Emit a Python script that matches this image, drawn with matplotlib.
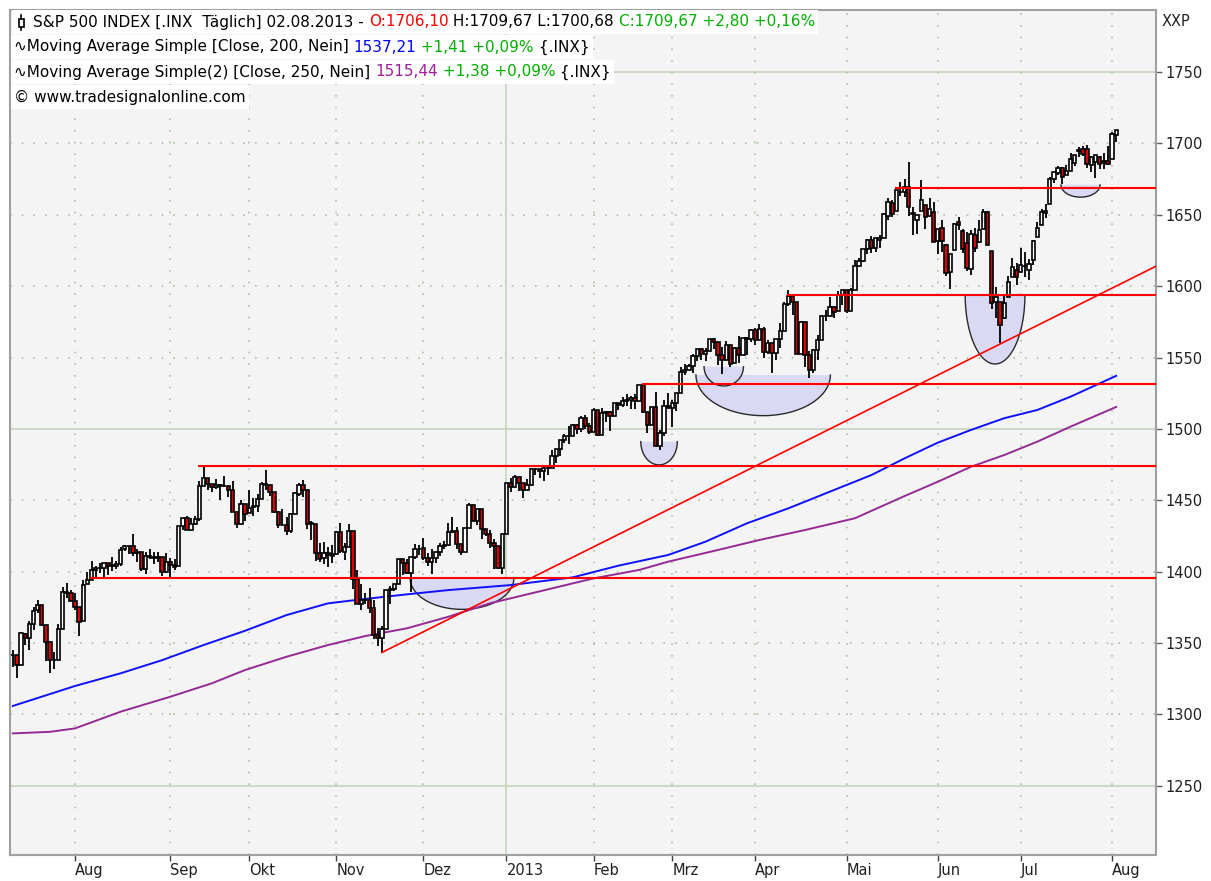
import matplotlib
matplotlib.use('Agg')  # no display
import matplotlib.pyplot as plt
from matplotlib.lines import Line2D
from matplotlib.patches import Rectangle
import numpy as np
import pandas as pd

W, H = 1211, 881
plt.rcParams['font.family'] = ['DejaVu Sans']

# --- data: S&P 500 daily bars, 11.07.2012 - 02.08.2013 ---
holidays = ['2012-09-03', '2012-10-29', '2012-10-30', '2012-11-22', '2012-12-25',
            '2013-01-01', '2013-01-21', '2013-02-18', '2013-03-29', '2013-05-27', '2013-07-04']
dates = pd.bdate_range('2012-07-11', '2013-08-02', freq='C', holidays=holidays)

opens = [
    1341.40, 1341.29, 1334.81, 1356.50, 1353.68, 1363.58, 1373.01, 1376.51, 1362.34, 1350.52, 1338.35, 1338.17, 1360.05, 1385.94, 1385.27,
    1379.32, 1375.13, 1365.45, 1391.04, 1394.46, 1401.23, 1402.26, 1402.58, 1405.87, 1404.36, 1403.89, 1405.57, 1415.84, 1417.85, 1418.13, 1413.09, 1413.49, 1401.99, 1411.13, 1410.44, 1409.32, 1410.08, 1400.07,
    1406.54, 1404.94, 1403.74, 1432.12, 1437.92, 1429.13, 1433.56, 1436.56, 1460.07, 1465.42, 1461.19, 1459.50, 1461.05, 1460.34, 1459.76, 1456.94, 1441.60, 1433.36, 1447.13,
    1440.90, 1444.99, 1446.05, 1451.08, 1461.40, 1460.93, 1455.90, 1441.48, 1432.82, 1432.84, 1428.75, 1440.31, 1454.22, 1460.94, 1457.34, 1433.21, 1433.74, 1413.20, 1409.74, 1412.97, 1410.99,
    1412.20, 1427.59, 1414.02, 1417.26, 1428.27, 1394.53, 1377.55, 1379.86, 1380.03, 1374.64, 1355.41, 1353.36, 1359.88, 1386.82, 1387.79, 1391.03, 1409.15, 1406.29, 1398.77, 1409.96, 1415.95,
    1416.34, 1409.46, 1407.05, 1409.43, 1413.95, 1418.07, 1418.55, 1427.84, 1428.48, 1419.45, 1413.54, 1430.47, 1446.79, 1435.81, 1443.67, 1430.15, 1426.66, 1419.83, 1418.10, 1402.43,
    1426.19, 1462.42, 1459.37, 1466.47, 1461.89, 1457.15, 1461.02, 1472.12, 1472.05, 1470.67, 1472.33, 1472.63, 1480.95, 1485.98, 1492.56, 1494.81, 1494.82, 1502.96, 1500.18, 1507.84, 1501.96,
    1498.11, 1513.17, 1495.71, 1511.29, 1512.12, 1509.39, 1517.93, 1517.01, 1519.43, 1520.33, 1521.38, 1519.79, 1530.94, 1511.95, 1502.42, 1515.60, 1487.85, 1496.94, 1515.99,
    1514.68, 1518.20, 1525.20, 1539.79, 1541.46, 1544.26, 1551.15, 1556.22, 1552.48, 1554.52, 1563.21, 1560.70, 1552.10, 1548.34, 1558.71, 1545.90, 1556.89, 1551.69, 1563.75, 1562.86,
    1569.18, 1562.17, 1570.25, 1553.69, 1559.98, 1553.26, 1563.11, 1568.61, 1587.73, 1593.30, 1588.84, 1552.36, 1574.57, 1552.03, 1541.61, 1555.25, 1562.50, 1578.78, 1578.78, 1585.16, 1582.34, 1593.58,
    1597.55, 1582.77, 1597.60, 1614.40, 1617.55, 1625.95, 1632.69, 1626.69, 1632.10, 1633.75, 1649.13, 1658.07, 1652.45, 1665.71, 1666.20, 1669.39, 1651.62, 1646.67, 1652.63, 1656.57, 1649.14, 1652.13,
    1631.71, 1640.73, 1629.05, 1609.94, 1625.27, 1644.67, 1638.64, 1629.94, 1612.15, 1635.52, 1630.64, 1639.77, 1651.83, 1624.62, 1588.62, 1588.77, 1577.52, 1592.27, 1606.44, 1611.12,
    1609.78, 1614.29, 1611.48, 1618.65, 1634.20, 1642.89, 1651.56, 1657.41, 1675.26, 1679.59, 1682.70, 1677.91, 1681.05, 1686.15, 1694.41, 1696.06, 1695.95, 1685.21, 1687.31, 1690.32, 1687.92, 1687.76,
    1689.42, 1706.10,
]
highs = [
    1345.00, 1341.29, 1357.70, 1357.26, 1365.36, 1375.26, 1380.39, 1376.51, 1362.34, 1351.53, 1343.98, 1363.13, 1389.19, 1391.74, 1387.16,
    1385.03, 1375.13, 1394.16, 1399.63, 1407.14, 1404.14, 1405.95, 1405.98, 1405.87, 1410.03, 1407.73, 1417.44, 1418.71, 1418.13, 1426.68, 1416.12, 1413.49, 1413.46, 1416.17, 1413.63, 1413.95, 1410.08, 1413.09,
    1409.31, 1408.81, 1432.12, 1437.92, 1438.74, 1437.76, 1439.15, 1463.76, 1474.51, 1465.63, 1461.47, 1465.15, 1461.23, 1467.07, 1460.72, 1463.24, 1441.60, 1450.20, 1447.13,
    1457.14, 1451.52, 1454.30, 1463.14, 1470.96, 1460.93, 1455.90, 1442.52, 1443.90, 1438.43, 1441.31, 1455.51, 1462.20, 1464.02, 1457.34, 1435.46, 1433.74, 1420.04, 1421.12, 1417.09, 1418.76,
    1428.35, 1434.27, 1419.90, 1433.38, 1428.27, 1401.23, 1391.39, 1384.87, 1388.81, 1380.13, 1360.62, 1362.03, 1386.89, 1389.77, 1391.25, 1409.16, 1409.15, 1409.01, 1410.13, 1419.70, 1418.86,
    1423.73, 1413.14, 1415.56, 1413.95, 1420.34, 1421.64, 1434.27, 1438.59, 1431.36, 1419.45, 1430.67, 1448.00, 1447.75, 1443.70, 1443.67, 1430.15, 1429.42, 1422.80, 1418.10, 1426.74,
    1462.43, 1465.47, 1467.94, 1466.47, 1461.89, 1464.73, 1472.30, 1472.75, 1472.05, 1473.31, 1473.96, 1485.16, 1485.98, 1492.56, 1496.13, 1502.27, 1503.26, 1503.23, 1509.35, 1509.94, 1504.19,
    1514.41, 1513.17, 1514.96, 1512.53, 1512.90, 1518.31, 1518.31, 1522.29, 1524.69, 1523.14, 1524.24, 1530.94, 1530.94, 1511.95, 1515.64, 1525.84, 1498.99, 1520.08, 1525.34,
    1519.99, 1525.27, 1543.47, 1545.25, 1545.78, 1552.48, 1556.27, 1556.77, 1556.39, 1563.32, 1563.62, 1560.70, 1557.25, 1561.56, 1558.71, 1557.74, 1564.91, 1563.95, 1564.07, 1570.28,
    1570.57, 1573.66, 1571.47, 1562.60, 1559.98, 1563.07, 1573.89, 1589.07, 1597.35, 1593.30, 1588.84, 1575.35, 1574.57, 1554.38, 1555.89, 1565.55, 1579.58, 1583.00, 1592.64, 1585.78, 1596.65, 1597.57,
    1597.55, 1598.60, 1618.46, 1619.77, 1626.03, 1632.78, 1635.01, 1633.70, 1636.00, 1651.10, 1661.49, 1660.51, 1667.47, 1672.84, 1674.93, 1687.18, 1655.50, 1649.78, 1674.21, 1656.57, 1661.91, 1658.99,
    1640.42, 1646.53, 1629.31, 1622.56, 1644.40, 1648.69, 1640.13, 1637.71, 1639.25, 1640.80, 1646.50, 1654.19, 1652.45, 1624.62, 1599.19, 1588.77, 1593.79, 1606.83, 1620.07, 1615.94,
    1626.61, 1624.26, 1618.97, 1632.07, 1644.68, 1654.18, 1657.92, 1676.63, 1680.19, 1684.51, 1683.73, 1684.75, 1693.12, 1692.09, 1697.61, 1698.38, 1698.86, 1690.94, 1691.85, 1690.92, 1693.19, 1698.43,
    1707.85, 1709.67,
]
lows = [
    1333.25, 1325.41, 1334.81, 1348.51, 1345.07, 1358.96, 1371.21, 1362.19, 1337.56, 1329.24, 1331.50, 1338.17, 1360.05, 1381.37, 1379.17,
    1373.35, 1354.65, 1365.45, 1391.04, 1394.46, 1396.13, 1398.80, 1395.62, 1397.32, 1400.60, 1401.83, 1404.15, 1414.67, 1412.12, 1410.86, 1406.78, 1400.50, 1398.04, 1409.11, 1405.59, 1406.57, 1397.01, 1398.96,
    1396.56, 1401.25, 1403.74, 1429.49, 1428.98, 1429.13, 1432.99, 1435.34, 1460.07, 1457.55, 1456.13, 1457.88, 1449.98, 1459.51, 1452.06, 1441.59, 1430.53, 1433.36, 1435.60,
    1440.90, 1439.01, 1441.99, 1451.08, 1456.89, 1453.10, 1441.18, 1430.64, 1432.82, 1425.53, 1427.24, 1440.31, 1453.35, 1452.63, 1429.85, 1422.06, 1407.56, 1407.10, 1405.14, 1403.28, 1405.95,
    1412.20, 1412.91, 1408.13, 1417.26, 1388.14, 1377.51, 1373.03, 1377.19, 1370.78, 1352.50, 1348.05, 1343.35, 1359.88, 1377.04, 1386.39, 1391.03, 1397.68, 1398.03, 1385.43, 1409.04, 1411.63,
    1408.46, 1403.65, 1398.23, 1405.93, 1410.90, 1415.64, 1418.55, 1426.76, 1416.00, 1411.88, 1413.54, 1430.47, 1435.80, 1432.82, 1422.58, 1424.66, 1416.43, 1401.80, 1401.58, 1398.11,
    1426.19, 1455.53, 1458.99, 1456.62, 1451.64, 1457.15, 1461.02, 1467.58, 1465.69, 1463.76, 1467.60, 1472.63, 1475.81, 1481.16, 1489.90, 1489.46, 1494.82, 1496.33, 1498.09, 1500.11, 1496.76,
    1498.11, 1495.02, 1495.71, 1504.71, 1498.49, 1509.39, 1513.61, 1515.61, 1515.93, 1514.02, 1514.14, 1519.79, 1511.41, 1497.29, 1502.42, 1487.85, 1485.01, 1494.88, 1514.46,
    1501.48, 1512.29, 1525.20, 1538.11, 1541.46, 1539.19, 1547.36, 1548.24, 1547.25, 1554.52, 1555.74, 1545.13, 1538.57, 1548.34, 1543.55, 1545.90, 1546.22, 1551.69, 1551.90, 1561.08,
    1558.47, 1562.17, 1549.80, 1552.52, 1539.50, 1548.63, 1556.89, 1568.61, 1586.17, 1579.97, 1552.28, 1552.36, 1543.69, 1536.03, 1539.40, 1548.19, 1562.50, 1575.80, 1578.78, 1577.56, 1582.34, 1586.50,
    1581.28, 1582.77, 1597.60, 1614.21, 1616.64, 1622.70, 1623.09, 1623.71, 1626.74, 1633.75, 1646.68, 1648.60, 1652.45, 1663.52, 1662.67, 1648.86, 1635.53, 1636.88, 1652.63, 1640.05, 1648.61, 1630.74,
    1622.72, 1623.62, 1607.09, 1598.23, 1625.27, 1639.26, 1622.92, 1610.92, 1608.07, 1623.96, 1630.34, 1639.77, 1628.91, 1584.32, 1577.70, 1560.33, 1577.09, 1592.27, 1606.44, 1601.06,
    1609.78, 1606.77, 1604.57, 1614.71, 1634.20, 1642.89, 1647.66, 1657.41, 1672.33, 1677.89, 1671.84, 1677.91, 1681.05, 1684.08, 1690.67, 1691.13, 1682.81, 1680.07, 1676.03, 1681.86, 1682.42, 1684.94,
    1689.42, 1700.68,
]
closes = [
    1341.45, 1334.76, 1356.78, 1353.64, 1363.67, 1372.78, 1376.51, 1362.66, 1350.52, 1338.31, 1337.89, 1360.02, 1385.97, 1385.30, 1379.32,
    1375.32, 1365.00, 1390.99, 1394.23, 1401.35, 1402.22, 1402.80, 1405.87, 1404.11, 1403.93, 1405.53, 1415.51, 1418.16, 1418.13, 1413.17, 1413.49, 1402.08, 1411.13, 1410.44, 1409.30, 1410.49, 1399.48, 1406.58,
    1404.94, 1403.44, 1432.12, 1437.92, 1429.08, 1433.56, 1436.56, 1459.99, 1465.77, 1461.19, 1459.32, 1461.05, 1460.26, 1460.15, 1456.89, 1441.59, 1433.32, 1447.15, 1440.67,
    1444.49, 1445.75, 1450.99, 1461.40, 1460.93, 1455.88, 1441.48, 1432.56, 1432.84, 1428.59, 1440.13, 1454.92, 1460.91, 1457.34, 1433.19, 1433.82, 1413.11, 1408.75, 1412.97, 1411.94, 1412.16,
    1427.59, 1414.20, 1417.26, 1428.39, 1394.53, 1377.51, 1379.85, 1380.03, 1374.53, 1355.49, 1353.33, 1359.88, 1386.89, 1387.81, 1391.03, 1409.15, 1406.29, 1398.94, 1409.93, 1415.95, 1416.18,
    1409.46, 1407.05, 1409.28, 1413.94, 1418.07, 1418.55, 1427.84, 1428.48, 1419.45, 1413.58, 1430.36, 1446.79, 1435.81, 1443.69, 1430.15, 1426.66, 1419.83, 1418.10, 1402.43, 1426.19,
    1462.42, 1459.37, 1466.47, 1461.89, 1457.15, 1461.02, 1472.12, 1472.05, 1470.68, 1472.34, 1472.63, 1480.94, 1485.98, 1492.56, 1494.81, 1494.82, 1502.96, 1500.18, 1507.84, 1501.96, 1498.11,
    1513.17, 1495.71, 1511.29, 1512.12, 1509.39, 1517.93, 1517.01, 1519.43, 1520.33, 1521.38, 1519.79, 1530.94, 1511.95, 1502.42, 1515.60, 1487.85, 1496.94, 1515.99, 1514.68,
    1518.20, 1525.20, 1539.79, 1541.46, 1544.26, 1551.18, 1556.22, 1552.48, 1554.52, 1563.23, 1560.70, 1552.10, 1548.34, 1558.71, 1545.80, 1556.89, 1551.69, 1563.77, 1562.85, 1569.19,
    1562.17, 1570.25, 1553.69, 1559.98, 1553.28, 1563.07, 1568.61, 1587.73, 1593.37, 1588.85, 1552.36, 1574.57, 1552.01, 1541.61, 1555.25, 1562.50, 1578.78, 1578.79, 1585.16, 1582.24, 1593.61, 1597.57,
    1582.70, 1597.59, 1614.42, 1617.50, 1625.96, 1632.69, 1626.67, 1633.70, 1633.77, 1650.34, 1658.78, 1650.47, 1667.47, 1666.29, 1669.16, 1655.35, 1650.51, 1649.60, 1660.06, 1648.36, 1654.41, 1630.74,
    1640.42, 1631.38, 1608.90, 1622.56, 1643.38, 1642.81, 1626.13, 1612.52, 1636.36, 1626.73, 1639.04, 1651.81, 1628.93, 1588.19, 1592.43, 1573.09, 1588.03, 1603.26, 1613.20, 1606.28,
    1614.96, 1614.08, 1615.41, 1631.89, 1640.46, 1652.32, 1652.62, 1675.02, 1680.19, 1682.50, 1676.26, 1680.91, 1689.37, 1692.09, 1695.53, 1692.39, 1685.94, 1690.25, 1691.65, 1685.33, 1685.96, 1685.73,
    1706.87, 1709.67,
]

# moving averages at sample bars (bar index into dates)
ma200_bar = [0, 15, 26, 36, 46, 56, 66, 76, 84, 95, 105, 120, 135, 146, 158, 167, 177, 187,
             199, 207, 215, 223, 231, 239, 247, 255, 266]
ma200_val = [1305.9, 1319.9, 1328.8, 1338.0, 1348.6, 1358.6, 1369.6, 1377.8, 1380.6, 1384.1,
             1387.1, 1390.6, 1396.0, 1404.2, 1411.7, 1421.0, 1433.9, 1444.4, 1458.4, 1467.7,
             1479.4, 1490.4, 1499.3, 1507.5, 1513.3, 1522.6, 1537.2]
ma250_bar = [0, 9, 15, 26, 38, 48, 56, 66, 76, 85, 95, 105, 115, 125, 140, 151, 158, 170, 180,
             191, 203, 215, 223, 231, 239, 247, 255, 266]
ma250_val = [1286.7, 1287.8, 1290.2, 1301.9, 1312.4, 1321.8, 1331.1, 1340.4, 1348.6, 1354.9,
             1360.3, 1368.4, 1377.8, 1384.8, 1395.3, 1401.2, 1407.0, 1415.2, 1422.2, 1429.2,
             1437.4, 1453.0, 1463.0, 1473.5, 1481.7, 1491.1, 1501.6, 1515.4]

# drawings: support lines, trend line, bowls
levels = [1395.5, 1474.0, 1531.5, 1593.9, 1668.8]
level_start = [18.6, 44.7, 151.6, 186.6, 212.7]
trend_x = [89.0, 275.6]
trend_y = [1343.4, 1614.0]
bowl_cx = [108.3, 155.8, 171.4, 180.9, 236.8, 257.4]
bowl_hw = [12.5, 4.4, 4.75, 16.2, 7.2, 4.7]
bowl_top = [1395.5, 1491.1, 1543.6, 1537.8, 1593.9, 1671.0]
bowl_depth = [21.9, 16.3, 13.5, 28.5, 48.4, 8.6]

month_labels = ['Aug', 'Sep', 'Okt', 'Nov', 'Dez', '2013', 'Feb', 'Mrz', 'Apr', 'Mai', 'Jun', 'Jul', 'Aug']
ytick_vals = list(range(1250, 1751, 50))

# --- figure ---
fig = plt.figure(figsize=(W / 100, H / 100), dpi=100)
fig.patch.set_facecolor('white')
ax = fig.add_axes([10 / W, 26 / H, 1146 / W, 845 / H])
ax.set_facecolor('#f4f4f4')

x = np.arange(len(dates))
o = np.array(opens)
hi = np.array(highs)
lo = np.array(lows)
c = np.array(closes)

ax.set_xlim(-0.67, 275.6)
ax.set_ylim(1201.5, 1793.5)

# month ticks
months = dates.month
tick_pos = [i for i in range(1, len(dates)) if months[i] != months[i - 1]]

# grid
for v in ytick_vals:
    if v % 250 == 0:
        ax.axhline(v, color='#c3d4bd', lw=1.2, zorder=0.5)
    else:
        ax.axhline(v, color='#a9c2a2', lw=1.2, ls=(0, (1, 6)), zorder=0.5)
for p, lab in zip(tick_pos, month_labels):
    if lab == '2013':
        ax.axvline(p, color='#c3d4bd', lw=1.2, zorder=0.5)
    else:
        ax.axvline(p, color='#a9c2a2', lw=1.2, ls=(0, (1, 6)), zorder=0.5)

# bowls
t = np.linspace(0, np.pi, 80)
for cx, hw, top, d in zip(bowl_cx, bowl_hw, bowl_top, bowl_depth):
    bx = cx + hw * np.cos(t)
    by = top - d * np.sin(t)
    ax.fill(bx, by, color='#d9d9f3', zorder=1, lw=0)
    ax.plot(bx, by, color='#2a2a2a', lw=1.0, zorder=1.1)

# moving averages
ax.plot(ma250_bar, ma250_val, color='#952a95', lw=1.4, zorder=2)
ax.plot(ma200_bar, ma200_val, color='#1010ff', lw=1.4, zorder=2)

# candles
up = c >= o
ax.vlines(x, lo, hi, color='black', lw=1.3, zorder=3)
ax.bar(x, np.abs(c - o), bottom=np.minimum(o, c), width=0.8,
       color=np.where(up, 'white', '#dd0000'), edgecolor='black', linewidth=1.2, zorder=3.5)

# support lines and trend line
for lv, st in zip(levels, level_start):
    ax.plot([st, 275.6], [lv, lv], color='#ff0000', lw=1.5, zorder=4, solid_capstyle='butt')
ax.plot(trend_x, trend_y, color='#ff0000', lw=1.2, zorder=4)

# axes styling
for s in ax.spines.values():
    s.set_color('#a0a0a0')
    s.set_linewidth(1.5)
ax.yaxis.tick_right()
ax.set_yticks(ytick_vals)
ax.set_yticklabels([str(v) for v in ytick_vals])
ax.tick_params(axis='y', length=4, width=1, color='#606060', labelsize=10.5, pad=3,
               labelcolor='#202020')
ax.set_xticks(tick_pos)
ax.set_xticklabels(month_labels, ha='left')
ax.tick_params(axis='x', length=4, width=1, color='#404040', labelsize=10.5, pad=2,
               labelcolor='#202020')
fig.text(1162 / W, 1 - 22 / H, 'XXP', fontsize=10.5, color='#202020', va='center')

# legend rows
renderer = fig.canvas.get_renderer()
FS = 11


def put_row(x0, y0, parts):
    xp = x0
    for s, col in parts:
        tx = fig.text(xp / W, 1 - y0 / H, s, color=col, fontsize=FS, va='center', ha='left', zorder=3)
        xp += tx.get_window_extent(renderer=renderer).width
    fig.add_artist(Rectangle(((x0 - 3) / W, 1 - (y0 + 12) / H), (xp - x0 + 6) / W, 24 / H,
                             transform=fig.transFigure, facecolor='white', edgecolor='none', zorder=1))


put_row(33, 22, [('S&P 500 INDEX [.INX  Täglich] 02.08.2013 - ', 'black'), ('O:1706,10', '#ff0000'),
                 (' H:1709,67 L:1700,68 ', 'black'), ('C:1709,67 +2,80 +0,16%', '#00b000')])
put_row(14, 47, [('∿Moving Average Simple [Close, 200, Nein] ', 'black'), ('1537,21', '#0000ff'),
                 (' +1,41 +0,09%', '#00b000'), (' {.INX}', 'black')])
put_row(14, 72, [('∿Moving Average Simple(2) [Close, 250, Nein] ', 'black'), ('1515,44', '#a020a0'),
                 (' +1,38 +0,09%', '#00b000'), (' {.INX}', 'black')])
put_row(14, 97, [('© www.tradesignalonline.com', 'black')])

# candle icon in front of the first row
fig.add_artist(Rectangle((12 / W, 1 - 34 / H), 20 / W, 24 / H, transform=fig.transFigure,
                         facecolor='white', edgecolor='none', zorder=1))
fig.add_artist(Line2D([21 / W, 21 / W], [1 - 15 / H, 1 - 30 / H], transform=fig.transFigure,
                      color='black', lw=1.2, zorder=4))
fig.add_artist(Rectangle((18.5 / W, 1 - 27 / H), 5 / W, 8 / H, transform=fig.transFigure,
                         facecolor='white', edgecolor='black', lw=1.2, zorder=5))

fig.savefig('out.png', dpi=100)
